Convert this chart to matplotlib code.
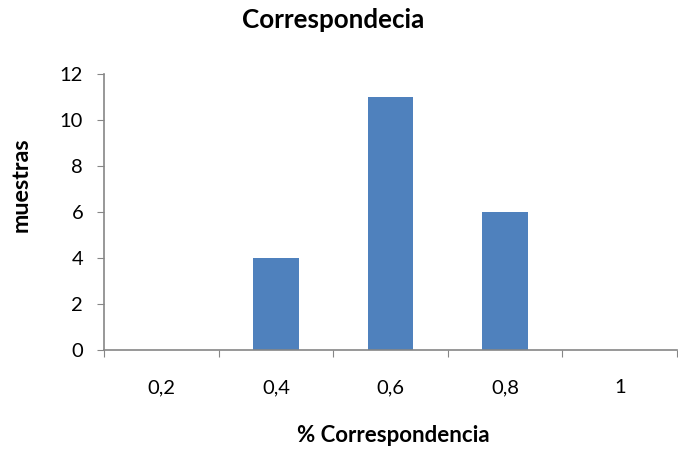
import matplotlib
matplotlib.use("Agg")
import matplotlib.pyplot as plt
import numpy as np

plt.rcParams['font.family'] = ['Lato', 'DejaVu Sans']

categories = ["0,2", "0,4", "0,6", "0,8", "1"]
muestras = [0, 4, 11, 6, 0]

axisGrey = "#868686"
barBlue = "#4F81BD"

fig = plt.figure(figsize=(6.78, 4.49), dpi=100)
axis = fig.add_axes([104 / 678, 1 - 350 / 449, 573 / 678, (350 - 74) / 449])

centers = np.arange(len(categories)) + 0.5
axis.bar(centers, muestras, width=0.4, color=barBlue, zorder=2)

axis.set_xlim(0, len(categories))
axis.set_ylim(0, 12)
axis.set_yticks(range(0, 13, 2))

# category boundaries get the tick marks, labels sit in the middle
axis.set_xticks(np.arange(len(categories) + 1))
axis.set_xticklabels([])
axis.set_xticks(centers, minor=True)
axis.set_xticklabels(categories, minor=True)
axis.tick_params(axis="x", which="major", length=5, color=axisGrey, direction="out")
axis.tick_params(axis="x", which="minor", length=0, pad=21, labelsize=14.5)
axis.tick_params(axis="y", length=5, color=axisGrey, direction="out", pad=10, labelsize=14.5)

for side in ["top", "right"]:
    axis.spines[side].set_visible(False)
for side in ["left", "bottom"]:
    axis.spines[side].set_color(axisGrey)
    axis.spines[side].set_linewidth(1.2)

fig.text(333 / 678, 1 - 20 / 449, "Correspondecia", ha="center", va="center",
         fontsize=18.7, fontweight="bold")
fig.text(21 / 678, 1 - 185 / 449, "muestras", ha="center", va="center",
         rotation=90, fontsize=16.8, fontweight="bold")
fig.text(393 / 678, 1 - 436 / 449, "% Correspondencia", ha="center", va="center",
         fontsize=16, fontweight="bold")

fig.savefig("out.png", dpi=100)
